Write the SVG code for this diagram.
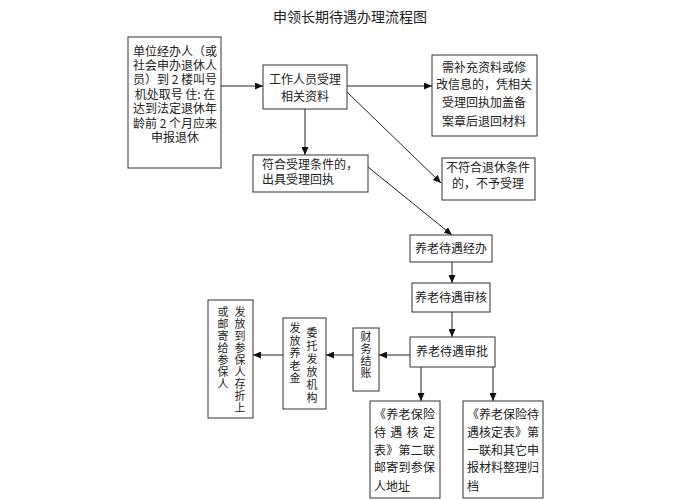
<svg xmlns="http://www.w3.org/2000/svg" width="700" height="500" viewBox="0 0 700 500">
<style>
text{font-family:"Noto Sans CJK SC","Liberation Sans",sans-serif;font-size:12px;fill:#222}
.t{font-size:14px}
.v{font-size:11px}
.b{fill:#fff;stroke:#333;stroke-width:1}
.c{text-anchor:middle}
.l{stroke:#222;stroke-width:1;fill:none}
</style>
<defs>
<marker id="a" markerUnits="userSpaceOnUse" markerWidth="9" markerHeight="7" refX="8" refY="3.5" orient="auto"><path d="M0,0 L8,3.5 L0,7 z" fill="#111"/></marker>
</defs>
<rect width="700" height="500" fill="#fff"/>
<text class="t c" x="350" y="22">申领长期待遇办理流程图</text>
<g id="connectors">
<line class="l" x1="221" y1="86" x2="263" y2="86" marker-end="url(#a)"/>
<line class="l" x1="347" y1="86" x2="432" y2="86" marker-end="url(#a)"/>
<line class="l" x1="305" y1="109" x2="305" y2="155" marker-end="url(#a)"/>
<line class="l" x1="347" y1="92" x2="441" y2="183" marker-end="url(#a)"/>
<line class="l" x1="368" y1="167" x2="452" y2="235" marker-end="url(#a)"/>
<line class="l" x1="452" y1="262" x2="452" y2="283" marker-end="url(#a)"/>
<line class="l" x1="452" y1="312" x2="452" y2="337" marker-end="url(#a)"/>
<line class="l" x1="410" y1="355" x2="379" y2="355" marker-end="url(#a)"/>
<line class="l" x1="353" y1="355" x2="326" y2="355" marker-end="url(#a)"/>
<line class="l" x1="283" y1="355" x2="253" y2="355" marker-end="url(#a)"/>
<line class="l" x1="421" y1="367" x2="421" y2="401" marker-end="url(#a)"/>
<line class="l" x1="493" y1="367" x2="493" y2="401" marker-end="url(#a)"/>
</g>
<g id="n1">
<rect class="b" x="128" y="37" width="93" height="131"/>
<text class="c" x="175" y="56">单位经办人（或</text>
<text class="c" x="175" y="70">社会申办退休人</text>
<text class="c" x="175" y="84">员）到 2 楼叫号</text>
<text class="c" x="175" y="99">机处取号 住: 在</text>
<text class="c" x="175" y="113">达到法定退休年</text>
<text class="c" x="175" y="128">龄前 2 个月应来</text>
<text class="c" x="175" y="142">申报退休</text>
</g>
<g id="n2">
<rect class="b" x="263" y="65" width="84" height="44"/>
<text class="c" x="305" y="84">工作人员受理</text>
<text class="c" x="305" y="101">相关资料</text>
</g>
<g id="n3">
<rect class="b" x="432" y="55" width="105" height="81"/>
<text class="c" x="484" y="72">需补充资料或修</text>
<text class="c" x="484" y="89">改信息的，凭相关</text>
<text class="c" x="484" y="107">受理回执加盖备</text>
<text class="c" x="484" y="126">案章后退回材料</text>
</g>
<g id="n4">
<rect class="b" x="253" y="155" width="115" height="37"/>
<text x="262" y="169">符合受理条件的，</text>
<text x="262" y="184">出具受理回执</text>
</g>
<g id="n5">
<rect class="b" x="442" y="158" width="93" height="42"/>
<text class="c" x="488" y="172">不符合退休条件</text>
<text class="c" x="488" y="188">的，不予受理</text>
</g>
<g id="n6">
<rect class="b" x="410" y="235" width="82" height="27"/>
<text class="c" x="451" y="253">养老待遇经办</text>
</g>
<g id="n7">
<rect class="b" x="412" y="283" width="78" height="29"/>
<text class="c" x="451" y="302">养老待遇审核</text>
</g>
<g id="n8">
<rect class="b" x="410" y="337" width="85" height="30"/>
<text class="c" x="452" y="356">养老待遇审批</text>
</g>
<g id="n9">
<rect class="b" x="353" y="328" width="26" height="63"/>
<text class="c v" x="366"><tspan x="366" y="341">财</tspan><tspan x="366" y="353">务</tspan><tspan x="366" y="365">结</tspan><tspan x="366" y="377">账</tspan></text>
</g>
<g id="n10">
<rect class="b" x="283" y="318" width="43" height="91"/>
<text class="c v" x="312"><tspan x="312" y="337">委</tspan><tspan x="312" y="350">托</tspan><tspan x="312" y="363">发</tspan><tspan x="312" y="376">放</tspan><tspan x="312" y="389">机</tspan><tspan x="312" y="402">构</tspan></text>
<text class="c v" x="295"><tspan x="295" y="332">发</tspan><tspan x="295" y="344.5">放</tspan><tspan x="295" y="357">养</tspan><tspan x="295" y="369.5">老</tspan><tspan x="295" y="382">金</tspan></text>
</g>
<g id="n11">
<rect class="b" x="208" y="300" width="45" height="118"/>
<text class="c v" x="240"><tspan x="240" y="316">发</tspan><tspan x="240" y="328">放</tspan><tspan x="240" y="340">到</tspan><tspan x="240" y="352">参</tspan><tspan x="240" y="364">保</tspan><tspan x="240" y="376">人</tspan><tspan x="240" y="388">存</tspan><tspan x="240" y="400">折</tspan><tspan x="240" y="412">上</tspan></text>
<text class="c v" x="223"><tspan x="223" y="316">或</tspan><tspan x="223" y="328">邮</tspan><tspan x="223" y="340">寄</tspan><tspan x="223" y="352">给</tspan><tspan x="223" y="364">参</tspan><tspan x="223" y="376">保</tspan><tspan x="223" y="388">人</tspan></text>
</g>
<g id="n12">
<rect class="b" x="370" y="401" width="70" height="97"/>
<text x="374" y="419" textLength="61" lengthAdjust="spacing">《养老保险</text>
<text x="374" y="437" textLength="61" lengthAdjust="spacing">待 遇 核 定</text>
<text x="374" y="455" textLength="61" lengthAdjust="spacing">表》第二联</text>
<text x="374" y="472" textLength="61" lengthAdjust="spacing">邮寄到参保</text>
<text x="374" y="491">人地址</text>
</g>
<g id="n13">
<rect class="b" x="463" y="401" width="80" height="97"/>
<text x="467" y="419">《养老保险待</text>
<text x="467" y="437">遇核定表》第</text>
<text x="467" y="455">一联和其它申</text>
<text x="467" y="472">报材料整理归</text>
<text x="467" y="491">档</text>
</g>
</svg>
